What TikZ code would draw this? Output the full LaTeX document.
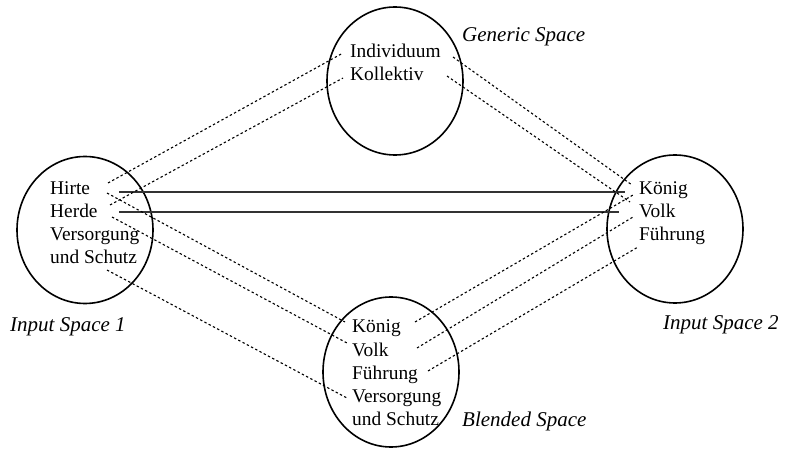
\documentclass[tikz,border=0pt]{standalone}
\usepackage{fontspec}
\setmainfont{Liberation Serif}
\usetikzlibrary{shapes.geometric}
\begin{document}
\begin{tikzpicture}[x=1pt,y=-1pt,
  spacecircle/.style={draw, line width=1.6pt, ellipse, inner sep=0pt, minimum width=136pt, minimum height=147pt},
  word/.style={anchor=base west, inner sep=0pt, font=\fontsize{19.4}{23}\selectfont},
  spacelabel/.style={anchor=base west, inner sep=0pt, font=\fontsize{21}{25}\selectfont\itshape},
  mapline/.style={line width=1.1pt, dash pattern=on 2.4pt off 2.4pt},
  counterline/.style={line width=1.1pt, black!80}]
\useasboundingbox (0,0) rectangle (785,449);
% circles
\node[spacecircle] (in1) at (85,230) {};
\node[spacecircle, minimum height=148pt] (gen) at (395,81) {};
\node[spacecircle, minimum height=150pt] (bl) at (391,372) {};
\node[spacecircle, minimum height=148pt] (in2) at (675,229) {};
% labels
\node[spacelabel] (lgen) at (462,42) {Generic Space};
\node[spacelabel] (lin1) at (10,331) {Input Space 1};
\node[spacelabel] (lin2) at (663,330) {Input Space 2};
\node[spacelabel] (lbl) at (462,426) {Blended Space};
% input 1
\node[word] (hirte) at (50,195) {Hirte};
\node[word] (herde) at (50,218) {Herde};
\node[word] (vers1) at (50,241) {Versorgung};
\node[word] (schutz1) at (50,264) {und Schutz};
% generic
\node[word] (indiv) at (350,58) {Individuum};
\node[word] (koll) at (350,81) {Kollektiv};
% blended
\node[word] (koenigb) at (352,333) {König};
\node[word] (volkb) at (352,356) {Volk};
\node[word] (fuehrb) at (352,379) {Führung};
\node[word] (versb) at (352,402) {Versorgung};
\node[word] (schutzb) at (352,425) {und Schutz};
% input 2
\node[word] (koenig2) at (639,195) {König};
\node[word] (volk2) at (639,218) {Volk};
\node[word] (fuehr2) at (639,241) {Führung};
% end points
\coordinate (hirteU) at (108,183);
\coordinate (hirteD) at (107,193);
\coordinate (herdeU) at (110,205);
\coordinate (herdeD) at (112,217);
\coordinate (schutzR) at (107,270);
\coordinate (indivL) at (343,53);
\coordinate (kollL) at (343,78);
\coordinate (indivR) at (453,57);
\coordinate (kollR) at (447,76);
\coordinate (koenigbL) at (345,322);
\coordinate (volkbL) at (347,343);
\coordinate (versbL) at (347,398);
\coordinate (koenigbR) at (415,322);
\coordinate (volkbR) at (417,348);
\coordinate (fuehrbR) at (428,371);
\coordinate (koenig2T) at (632,185);
\coordinate (volk2T) at (630,202);
\coordinate (koenig2B) at (633,195);
\coordinate (volk2B) at (633,217);
\coordinate (fuehr2B) at (638,247);
\coordinate (cA1) at (119,192);
\coordinate (cA2) at (625,192);
\coordinate (cB1) at (119,212);
\coordinate (cB2) at (619,212);
% counterpart connectors
\draw[counterline] (cA1) -- (cA2);
\draw[counterline] (cB1) -- (cB2);
% projections
\draw[mapline] (hirteU) -- (indivL);
\draw[mapline] (herdeU) -- (kollL);
\draw[mapline] (hirteD) -- (koenigbL);
\draw[mapline] (herdeD) -- (volkbL);
\draw[mapline] (schutzR) -- (versbL);
\draw[mapline] (indivR) -- (koenig2T);
\draw[mapline] (kollR) -- (volk2T);
\draw[mapline] (koenigbR) -- (koenig2B);
\draw[mapline] (volkbR) -- (volk2B);
\draw[mapline] (fuehrbR) -- (fuehr2B);
\end{tikzpicture}
\end{document}
